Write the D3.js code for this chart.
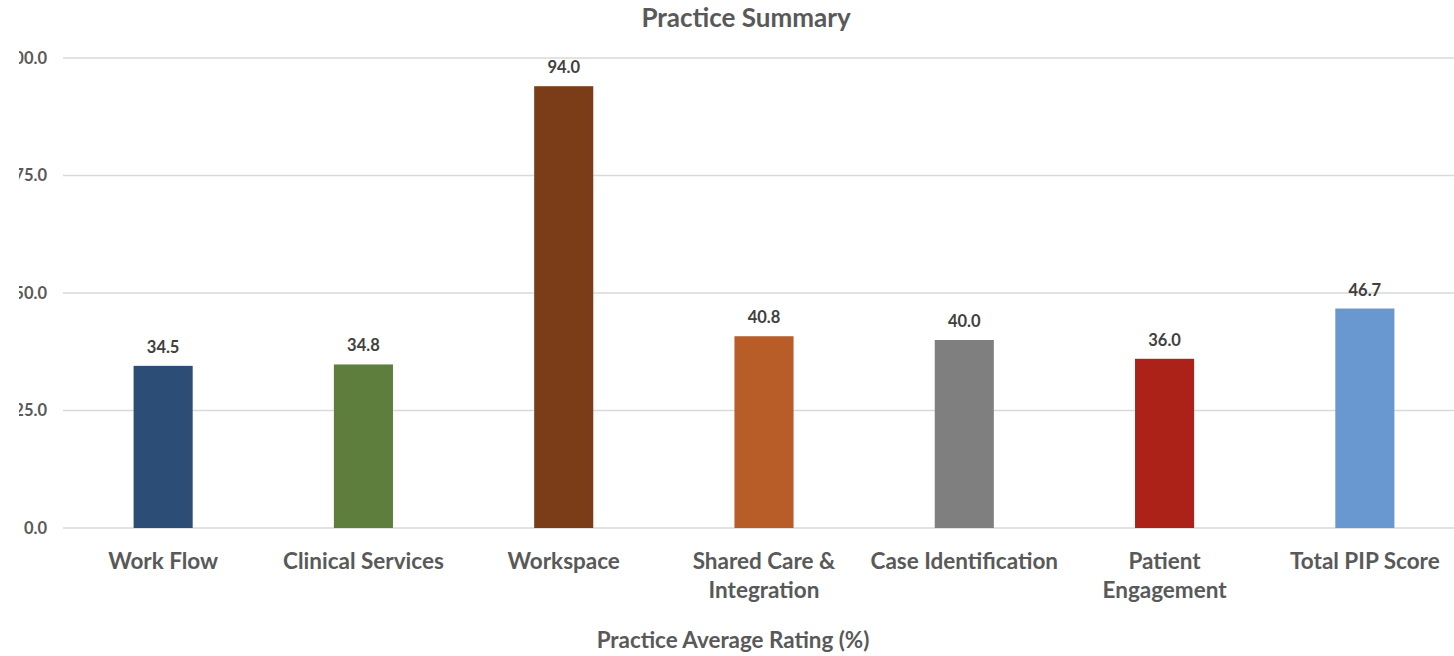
<!DOCTYPE html>
<html><head><meta charset="utf-8">
<script src="https://cdn.jsdelivr.net/npm/d3@7"></script>
<style>
html,body{margin:0;padding:0;background:#fff;overflow:hidden}
text{font-family:Lato,"Open Sans",sans-serif;font-weight:bold}
</style></head>
<body>
<svg id="c" width="1454" height="656"></svg>
<script>
const categories = [["Work Flow"],["Clinical Services"],["Workspace"],["Shared Care &","Integration"],["Case Identification"],["Patient","Engagement"],["Total PIP Score"]];
const values = [34.5, 34.8, 94.0, 40.8, 40.0, 36.0, 46.7];
const colors = ["#2C4D75","#5E7E3E","#7A3D18","#B85C28","#7F7F7F","#AC2218","#6898CF"];
const yTicks = [0, 25, 50, 75, 100];
const title = "Practice Summary";
const xTitle = "Practice Average Rating (%)";

const svg = d3.select("#c");
const W = 1454, H = 656;
const x = d3.scaleBand().domain(d3.range(categories.length)).range([63, 1465]).paddingInner(0.705).paddingOuter(0.3525);
const y = d3.scaleLinear().domain([0, 100]).range([528, 58]);

// gridlines
svg.append("g").selectAll("line").data(yTicks).join("line")
  .attr("x1", 63).attr("x2", W + 20)
  .attr("y1", d => y(d)).attr("y2", d => y(d))
  .attr("stroke", "#D9D9D9").attr("stroke-width", 1.3);

// y labels clipped
svg.append("defs").append("clipPath").attr("id","yclip").append("rect")
  .attr("x", 19).attr("y", 0).attr("width", 100).attr("height", H);
svg.append("g").attr("clip-path","url(#yclip)").selectAll("text").data(yTicks).join("text")
  .attr("x", 47).attr("y", d => y(d)).attr("dy", "0.35em")
  .attr("text-anchor", "end").attr("font-size", 16.5).attr("fill", "#595959")
  .text(d => d3.format(".1f")(d));

// bars
svg.append("g").selectAll("rect").data(values).join("rect")
  .attr("x", (d, i) => x(i)).attr("width", x.bandwidth())
  .attr("y", d => y(d)).attr("height", d => y(0) - y(d))
  .attr("fill", (d, i) => colors[i]);

// value labels
svg.append("g").selectAll("text").data(values).join("text")
  .attr("x", (d, i) => x(i) + x.bandwidth() / 2).attr("y", d => y(d) - 13)
  .attr("text-anchor", "middle").attr("font-size", 16.5).attr("fill", "#404040")
  .text(d => d3.format(".1f")(d));

// category labels
const cl = svg.append("g").selectAll("text").data(categories).join("text")
  .attr("x", (d, i) => x(i) + x.bandwidth() / 2).attr("y", 569)
  .attr("text-anchor", "middle").attr("font-size", 22.5).attr("fill", "#595959");
cl.each(function(d, i) {
  const t = d3.select(this);
  d.forEach((line, j) => t.append("tspan").attr("x", x(i) + x.bandwidth() / 2).attr("dy", j ? 29 : 0).text(line));
});

svg.append("text").attr("x", 746).attr("y", 27).attr("text-anchor", "middle")
  .attr("font-size", 26).attr("fill", "#595959").text(title);
svg.append("text").attr("x", 733).attr("y", 648).attr("text-anchor", "middle")
  .attr("font-size", 22.4).attr("fill", "#595959").text(xTitle);
</script>
</body></html>
